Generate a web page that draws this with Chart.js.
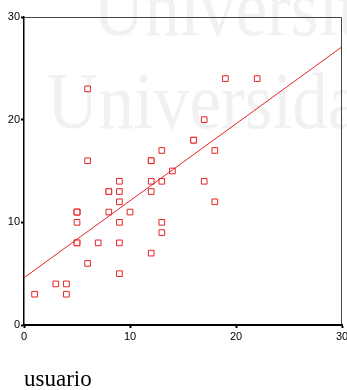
<!DOCTYPE html>
<html>
<head>
<meta charset="utf-8">
<script src="https://cdn.jsdelivr.net/npm/chart.js@4"></script>
<style>
  html, body { margin: 0; padding: 0; background: #fff; }
  #grafico { display: block; }
</style>
</head>
<body>
<canvas id="grafico" width="347" height="390"></canvas>
<script>
// puntos (x = usuario)
var usuarioX = [1, 3, 4, 4, 5, 5, 5, 5, 5, 5, 6, 6, 6, 7, 8, 8, 8, 9, 9, 9, 9, 9, 9, 10, 12, 12, 12, 12, 12, 13, 13, 13, 13, 14, 16, 16, 17, 17, 18, 18, 19, 22];
var valorY   = [3, 4, 4, 3, 8, 8, 10, 11, 11, 11, 6, 16, 23, 8, 13, 13, 11, 14, 13, 12, 10, 8, 5, 11, 14, 13, 16, 16, 7, 17, 14, 10, 9, 15, 18, 18, 14, 20, 17, 12, 24, 24];

// recta de ajuste (extremos leidos)
var ajusteX = [0, 30];
var ajusteY = [4.6, 27.1];

var ticksEje = [0, 10, 20, 30];

var puntos = usuarioX.map(function (x, i) { return { x: x, y: valorY[i] }; });
var recta = ajusteX.map(function (x, i) { return { x: x, y: ajusteY[i] }; });

var marcaAgua = {
    id: 'marcaAgua',
    beforeDraw: function (chart) {
        var ctx = chart.ctx;
        ctx.save();
        ctx.fillStyle = '#f1f1f1';
        ctx.font = '80px "Liberation Serif"';
        ctx.textBaseline = 'alphabetic';
        ctx.save();
        ctx.translate(93, 35);
        ctx.scale(0.89, 1);
        ctx.fillText('Universitat', 0, 0);
        ctx.restore();
        ctx.save();
        ctx.translate(47, 128);
        ctx.scale(0.89, 1);
        ctx.fillText('Universidad', 0, 0);
        ctx.restore();
        ctx.restore();
    },
    afterDatasetsDraw: function (chart) {
        var a = chart.chartArea;
        var ctx = chart.ctx;
        ctx.save();
        ctx.strokeStyle = '#444';
        ctx.lineWidth = 1;
        ctx.beginPath();
        ctx.moveTo(a.left, a.top + 0.5);
        ctx.lineTo(a.right - 0.5, a.top + 0.5);
        ctx.lineTo(a.right - 0.5, a.bottom);
        ctx.stroke();
        ctx.restore();
    }
};

var ctx = document.getElementById('grafico').getContext('2d');
var grafico = new Chart(ctx, {
    type: 'scatter',
    data: {
        datasets: [{
            data: puntos,
            pointStyle: 'rect',
            pointRadius: 4,
            pointBorderWidth: 1,
            borderColor: '#e82222',
            backgroundColor: '#ffffff',
            order: 1
        }, {
            type: 'line',
            data: recta,
            borderColor: '#e82222',
            borderWidth: 1,
            pointRadius: 0,
            fill: false,
            order: 0
        }]
    },
    options: {
        responsive: false,
        animation: false,
        layout: { padding: { top: 17, right: 5, left: 0, bottom: 0 } },
        plugins: {
            legend: { display: false },
            tooltip: { enabled: false }
        },
        scales: {
            x: {
                type: 'linear',
                min: 0,
                max: 30,
                afterBuildTicks: function (s) { s.ticks = ticksEje.map(function (v) { return { value: v }; }); },
                afterFit: function (s) { s.height = 65; s.paddingLeft = 0; s.paddingRight = 0; },
                border: { color: '#000', width: 2 },
                grid: { drawOnChartArea: false, color: '#000', tickLength: 3, tickWidth: 2 },
                ticks: {
                    color: '#000',
                    padding: 2,
                    maxRotation: 0,
                    font: { family: '"Liberation Sans", Arial', size: 11 }
                },
                title: {
                    display: true,
                    text: 'usuario',
                    align: 'start',
                    color: '#000',
                    padding: { top: 0, bottom: -4 },
                    font: { family: '"Liberation Serif", "Times New Roman"', size: 23 }
                }
            },
            y: {
                type: 'linear',
                min: 0,
                max: 30,
                afterBuildTicks: function (s) { s.ticks = ticksEje.map(function (v) { return { value: v }; }); },
                afterFit: function (s) { s.width = 24; s.paddingTop = 0; s.paddingBottom = 0; },
                border: { color: '#000', width: 1.5 },
                grid: { drawOnChartArea: false, color: '#000', tickLength: 3, tickWidth: 2 },
                ticks: {
                    color: '#000',
                    padding: 1,
                    font: { family: '"Liberation Sans", Arial', size: 11 }
                }
            }
        }
    },
    plugins: [marcaAgua]
});
</script>
</body>
</html>
